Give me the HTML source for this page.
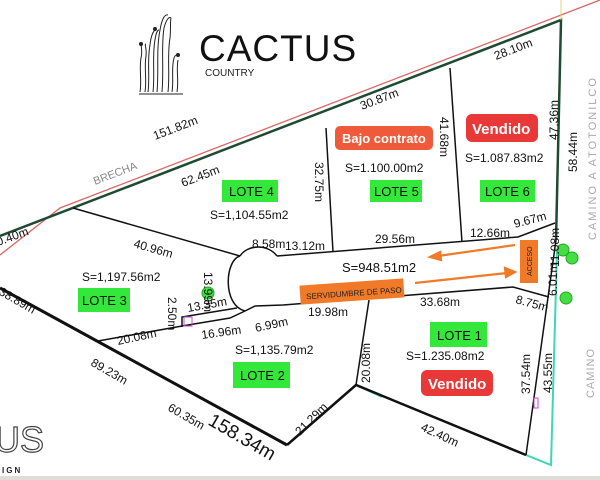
<!DOCTYPE html>
<html><head><meta charset="utf-8"><style>
html,body{margin:0;padding:0;background:#fff;}
svg{display:block;font-family:"Liberation Sans",sans-serif;}
.m{font-size:12px;fill:#111;}
.lb{font-size:12px;fill:#111;}
</style></head><body>
<svg width="600" height="480" viewBox="0 0 600 480" xmlns="http://www.w3.org/2000/svg">
<rect width="600" height="480" fill="#fff"/>
<!-- logo cactus -->
<g fill="none" stroke="#222" stroke-width="1">
<path d="M140 92 C142 80 139 70 141 58 C143 50 140 45 142 44"/>
<path d="M145 92 C147 80 144 68 146 56 C147 48 144 44 146 44"/>
<path d="M148 92 C150 78 147 60 150 45 C151 35 153 32 155 30"/>
<path d="M153 92 C155 75 152 55 155 40 C156 32 158 30 159 30"/>
<path d="M157 92 C159 70 156 50 160 30 C162 18 165 14 168 15"/>
<path d="M162 92 C164 70 161 45 164 28 C166 20 169 16 171 18"/>
<path d="M168 92 C170 75 167 55 170 38 C171 28 170 22 171 18"/>
<path d="M172 92 C174 80 171 68 174 58 C175 55 176 55 178 55"/>
<path d="M177 92 C179 80 176 70 178 60"/>
<line x1="139" y1="94" x2="183" y2="94"/>
</g>
<circle cx="141" cy="44" r="2" fill="#222"/><circle cx="155" cy="29" r="2" fill="#222"/><circle cx="178" cy="55" r="2" fill="#222"/>
<text x="199" y="61" font-size="37" fill="#111" letter-spacing="1">CACTUS</text>
<text x="205" y="76" font-size="10" fill="#222">COUNTRY</text>
<!-- bottom-left logo -->
<text x="-6" y="452" font-size="36" fill="none" stroke="#444" stroke-width="1.2">US</text>
<text x="2" y="473" font-size="8" fill="#222" letter-spacing="2" font-weight="bold">IGN</text>
<rect x="0" y="476" width="600" height="4" fill="#e0ddd8"/>
<!-- red line -->
<polyline points="0,255 60,208 600,0" fill="none" stroke="#d66" stroke-width="1.3"/>
<!-- top green boundary -->
<polyline points="0,236 561,20 556,240" fill="none" stroke="#1e4a32" stroke-width="2.5"/>
<line x1="561" y1="0" x2="561" y2="20" stroke="#e8d070" stroke-width="1"/>
<!-- teal -->
<polyline points="557,250 551,465 526,455" fill="none" stroke="#3cd6b8" stroke-width="2"/>
<line x1="356" y1="385" x2="382" y2="397" stroke="#3cd6b8" stroke-width="2"/>
<!-- main dark lines -->
<g fill="none" stroke="#111" stroke-width="1.5">
<polyline points="0,288 287,445" stroke-width="3"/>
<polyline points="287,445 356,385 526,455" stroke-width="2.5"/>
<line x1="556" y1="240" x2="526" y2="455"/>
<line x1="73" y1="208" x2="240" y2="256"/>
<line x1="326" y1="128" x2="333" y2="252"/>
<line x1="450" y1="68" x2="462" y2="242"/>
<line x1="369" y1="300" x2="356" y2="385"/>
<!-- road upper -->
<polyline points="277,256 518,237 555,223"/>
<!-- road lower -->
<polyline points="98,341 182,326 230,318 245,311 255,306 283,305 513,287 549,297"/>
<!-- cul-de-sac -->
<path d="M240,256 C248,244 268,244 277,256 M245,311 C222,305 225,260 240,256"/>
<polyline points="182,327 182,317 237,308"/>
</g>
<rect x="184" y="317" width="8" height="9" fill="none" stroke="#c4c" stroke-width="1"/>
<rect x="534" y="398" width="4" height="10" fill="none" stroke="#c4c" stroke-width="1"/>
<!-- trees -->
<g fill="#44dd44" stroke="#2a2" stroke-width="1"><circle cx="208" cy="293" r="6"/><circle cx="563" cy="250" r="6"/><circle cx="572" cy="258" r="6"/><circle cx="566" cy="298" r="6"/></g>
<!-- labels green -->
<g font-size="13" fill="#111">
<rect x="222" y="180" width="56" height="22" fill="#33e83a"/><text x="229" y="196">LOTE 4</text>
<rect x="370" y="180" width="52" height="22" fill="#33e83a"/><text x="374" y="196">LOTE 5</text>
<rect x="480" y="180" width="55" height="22" fill="#33e83a"/><text x="485" y="196">LOTE 6</text>
<rect x="78" y="288" width="52" height="24" fill="#33e83a"/><text x="82" y="305">LOTE 3</text>
<rect x="233" y="362" width="57" height="26" fill="#33e83a"/><text x="240" y="380">LOTE 2</text>
<rect x="430" y="322" width="57" height="25" fill="#33e83a"/><text x="437" y="340">LOTE 1</text>
</g>
<rect x="335" y="126" width="98" height="24" rx="5" fill="#ef5a3a"/><text x="342" y="143" font-size="13" font-weight="bold" fill="#fff">Bajo contrato</text>
<rect x="466" y="114" width="72" height="28" rx="6" fill="#e83838"/><text x="472" y="134" font-size="15" font-weight="bold" fill="#fff">Vendido</text>
<rect x="421" y="370" width="72" height="26" rx="6" fill="#e83838"/><text x="428" y="389" font-size="15" font-weight="bold" fill="#fff">Vendido</text>
<!-- orange -->
<g transform="rotate(-4 352 292)"><rect x="300" y="282" width="104" height="19" fill="#f07a28"/><text x="306" y="296" font-size="8" fill="#222">SERVIDUMBRE DE PASO</text></g>
<rect x="520" y="240" width="18" height="43" fill="#f07a28"/><text transform="translate(532,276) rotate(-90)" font-size="7" fill="#222">ACCESO</text>
<g stroke="#f07a28" stroke-width="2.2" fill="#f07a28">
<line x1="515" y1="245" x2="438" y2="256"/><polygon points="430,257 440,252 441,260"/>
<line x1="415" y1="283" x2="507" y2="273"/><polygon points="515,272 505,268 506,277"/>
</g>
<!-- areas -->
<g font-size="12" fill="#111">
<text x="210" y="219">S=1,104.55m2</text>
<text x="345" y="172">S=1.100.00m2</text>
<text x="465" y="162">S=1.087.83m2</text>
<text x="82" y="281">S=1,197.56m2</text>
<text x="235" y="354">S=1,135.79m2</text>
<text x="406" y="360">S=1.235.08m2</text>
<text x="342" y="272" font-size="13">S=948.51m2</text>
</g>
<!-- measurements -->
<g class="m">
<text transform="translate(155,140) rotate(-21)">151.82m</text>
<text transform="translate(183,187) rotate(-21)">62.45m</text>
<text transform="translate(362,110) rotate(-21)">30.87m</text>
<text transform="translate(496,60) rotate(-21)">28.10m</text>
<text transform="translate(-2,246) rotate(-20)">0.40m</text>
<text transform="translate(95,185) rotate(-21)" fill="#888" font-size="11" style="fill:#888">BRECHA</text>
<text transform="translate(133,247) rotate(16)">40.96m</text>
<text transform="translate(315,162) rotate(90)">32.75m</text>
<text transform="translate(440,117) rotate(90)">41.68m</text>
<text transform="translate(558,140) rotate(-90)">47.36m</text>
<text transform="translate(577,172) rotate(-90)">58.44m</text>
<text x="252" y="248">8.58m</text>
<text x="285" y="250">13.12m</text>
<text x="375" y="243">29.56m</text>
<text x="470" y="237">12.66m</text>
<text transform="translate(515,228) rotate(-15)">9.67m</text>
<text transform="translate(559,267) rotate(-90)">11.08m</text>
<text transform="translate(557,296) rotate(-90)">6.01m</text>
<text transform="translate(515,303) rotate(15)">8.75m</text>
<text x="420" y="306">33.68m</text>
<text x="308" y="316">19.98m</text>
<text transform="translate(256,332) rotate(-12)">6.99m</text>
<text transform="translate(202,339) rotate(-8)">16.96m</text>
<text transform="translate(118,345) rotate(-12)">20.08m</text>
<text transform="translate(188,312) rotate(-10)">13.35m</text>
<text transform="translate(204,272) rotate(90)">13.99m</text>
<text transform="translate(168,297) rotate(90)">2.50m</text>
<text transform="translate(-2,294) rotate(30)">38.89m</text>
<text transform="translate(90,365) rotate(30)">89.23m</text>
<text transform="translate(167,410) rotate(30)">60.35m</text>
<text transform="translate(207,424) rotate(30)" font-size="19">158.34m</text>
<text transform="translate(300,436) rotate(-45)">21.29m</text>
<text transform="translate(420,430) rotate(25)">42.40m</text>
<text transform="translate(370,383) rotate(-90)">20.08m</text>
<text transform="translate(530,394) rotate(-90)">37.54m</text>
<text transform="translate(552,393) rotate(-90)">43.55m</text>
</g>
<text transform="translate(596,240) rotate(-90)" font-size="11" fill="#aaa" letter-spacing="2">CAMINO A ATOTONILCO</text>
<text transform="translate(594,398) rotate(-90)" font-size="11" fill="#aaa" letter-spacing="1">CAMINO</text>
</svg>
</body></html>
